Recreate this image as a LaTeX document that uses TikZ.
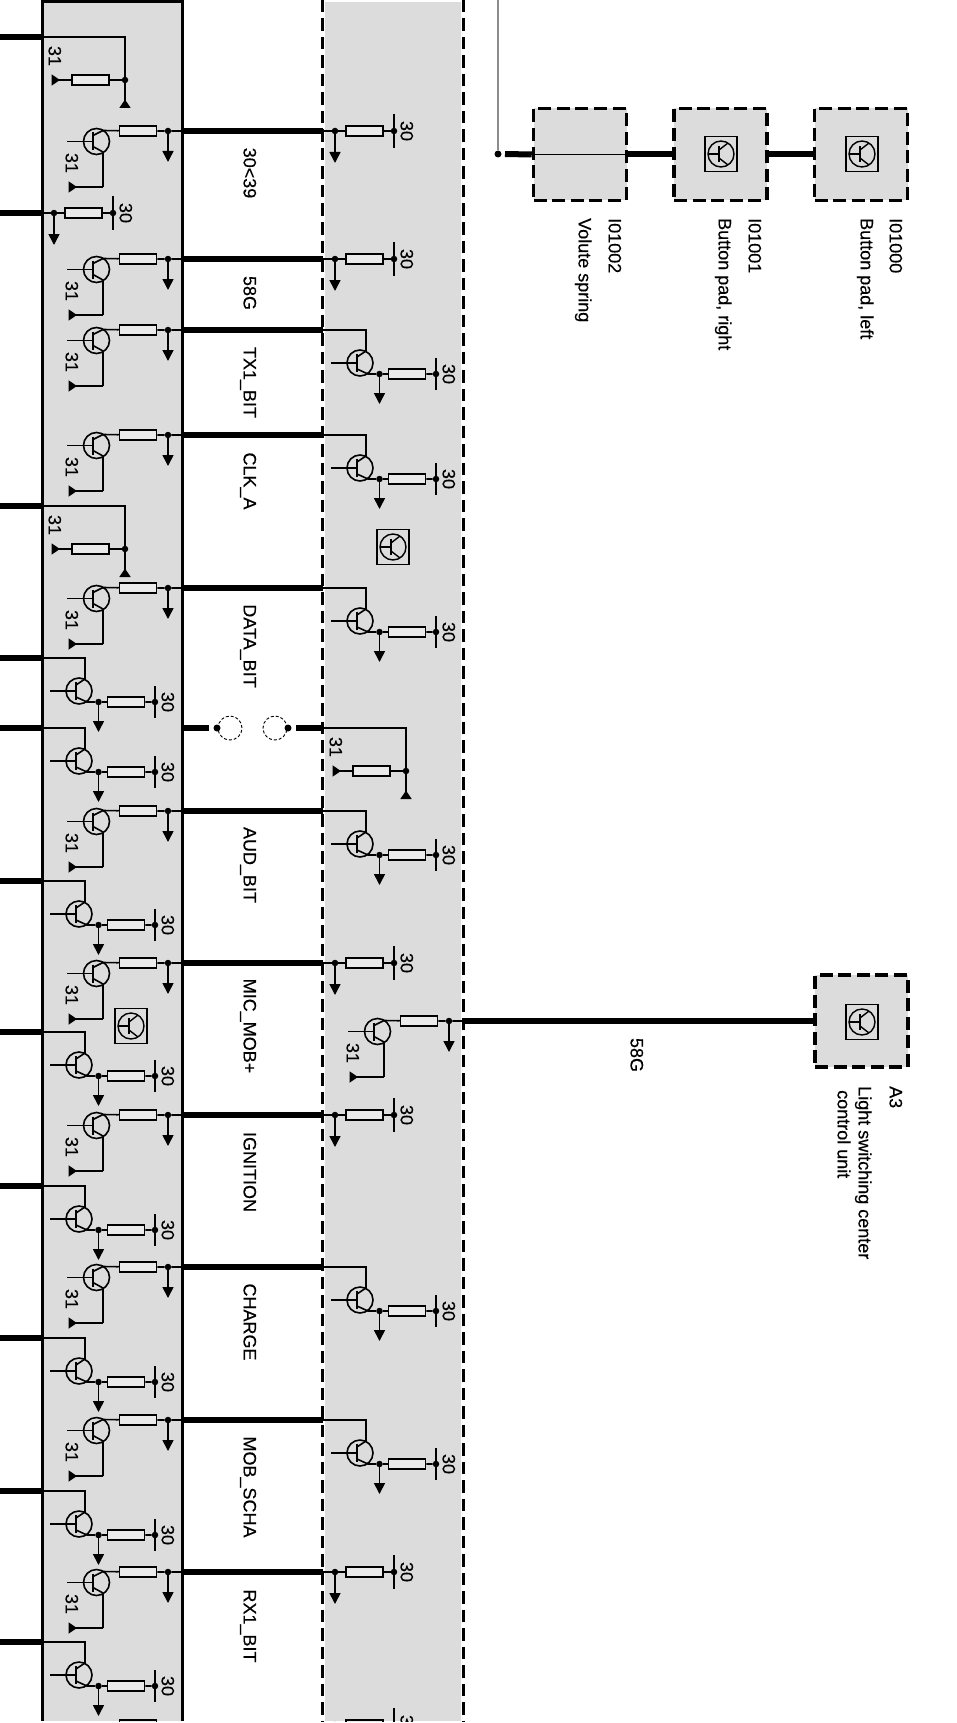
\documentclass[tikz,border=0pt]{standalone}
\usepackage{fontspec}
\setmainfont[FakeBold=0.3]{Liberation Sans}
\usetikzlibrary{arrows.meta}
\definecolor{panel}{HTML}{DCDCDC}
\definecolor{resfill}{HTML}{EAEAEA}
\tikzset{
  wire/.style={line width=1.6pt,line cap=butt},
  bus/.style={line width=6pt},
  frame/.style={line width=3pt},
  dashframe/.style={line width=3pt,dash pattern=on 12.5pt off 6pt},
  boxdash/.style={draw,line width=3.5pt,dash pattern=on 13pt off 5.6pt,fill=panel,rectangle,minimum width=93pt,minimum height=92pt,inner sep=0pt},
  res/.style={draw,rectangle,line width=1.5pt,fill=resfill,minimum width=37pt,minimum height=10pt,inner sep=0pt},
  jdot/.style={circle,fill=black,minimum size=6.5pt,inner sep=0pt},
  lab/.style={rotate=-90,inner sep=0pt,text height=12.8pt,text depth=0pt,font=\fontsize{18}{20}\selectfont},
  labs/.style={lab,anchor=west},
  down/.style={wire,-{Triangle[width=11pt,length=11pt]}},
  gnd/.style={wire,-{Triangle[reversed,width=11pt,length=8.5pt]}},
  unitA/.pic={
    \coordinate (-port) at (182,0);
    \node[jdot] (-dot) at (168,0) {};
    \coordinate (-arr) at (168,31);
    \node[res] (-r) at (138,0) {};
    \coordinate (-c) at (103,-0.5);
    \coordinate (-e) at (103,21);
    \coordinate (-ec) at (103,56);
    \coordinate (-g) at (68.5,56);
    \draw[wire] (-port) -- (-dot) -- (-r) -- (-c) -- (93,4.5);
    \draw[down] (-dot) -- (-arr);
    \draw[wire] (96.5,10.5) circle[radius=13];
    \draw[line width=1.8pt] (93,1.5) -- (93,19.5);
    \draw[wire] (67,10.5) -- (93,10.5);
    \draw[wire] (93,15.5) -- (-e);
    \draw[line width=1.8pt] (-e) -- (-ec);
    \draw[gnd,line width=1.8pt] (-ec) -- (-g);
    \node[lab] (-t) at (72,32) {31};
  },
  unitB/.pic={
    \coordinate (-port) at (42,0);
    \coordinate (-k) at (85,0);
    \coordinate (-c) at (85,21);
    \coordinate (-e) at (87,44);
    \node[jdot] (-dot) at (98.5,44) {};
    \coordinate (-arr) at (98.5,74);
    \node[res] (-r) at (126,44) {};
    \node[jdot] (-b) at (155,44) {};
    \draw[wire] (-port) -- (-k) -- (-c) -- (76,27);
    \draw[wire] (79,33) circle[radius=13];
    \draw[line width=1.8pt] (76,24) -- (76,42);
    \draw[wire] (50,33) -- (76,33);
    \draw[wire] (76,39) -- (-e) -- (-dot) -- (-r) -- (-b);
    \draw[down] (-dot) -- (-arr);
    \draw[wire] (155,28) -- (155,60);
    \node[lab] (-t) at (168,44) {30};
  },
  unitC/.pic={
    \coordinate (-port) at (42,0);
    \node[jdot] (-dot) at (54,0) {};
    \coordinate (-arr) at (54,32);
    \node[res] (-r) at (83.5,0) {};
    \node[jdot] (-b) at (113,0) {};
    \draw[wire] (-port) -- (-dot) -- (-r) -- (-b);
    \draw[down] (-dot) -- (-arr);
    \draw[wire] (113,-17) -- (113,17);
    \node[lab] (-t) at (126,0) {30};
  },
  unitD/.pic={
    \coordinate (-port) at (42,0);
    \coordinate (-k) at (125,0);
    \node[jdot] (-dot) at (125,43) {};
    \coordinate (-up) at (125,71);
    \node[res] (-r) at (90.5,43) {};
    \coordinate (-g) at (51.5,43);
    \draw[wire] (-port) -- (-k) -- (-dot) -- (-r);
    \draw[gnd] (-dot) -- (-up);
    \draw[gnd] (-r) -- (-g);
    \node[lab] (-t) at (55,19) {31};
  },
  icon/.pic={
    \node[draw,rectangle,line width=1.7pt,fill=panel,minimum width=32pt,minimum height=35pt,inner sep=0pt] (-box) at (0,0) {};
    \draw[line width=1.4pt] (0,0) circle[radius=13];
    \draw[line width=1.6pt] (-2,-8) -- (-2,8);
    \draw[line width=1.4pt] (-13,0) -- (-2,0);
    \draw[line width=1.4pt] (-2,-4) -- (7,-11);
    \draw[line width=1.4pt] (-2,4) -- (7,11);
  }
}
\begin{document}
\begin{tikzpicture}[x=1pt,y=-1pt]
\useasboundingbox (0,0) rectangle (956,1723);
\clip (0,0) rectangle (956,1721);
% panels
\fill[panel] (42,0) rectangle (182,1721);
\fill[panel] (325,2) rectangle (461,1721);
\draw[frame] (42,1721) -- (42,1.5) -- (182,1.5) -- (182,1721);
\draw[dashframe] (322,0) -- (322,1721);
\draw[dashframe] (463,0) -- (463,1721);

% left column, connector-side units
\foreach \y in {131,259,330,435,588,811,963,1115,1267,1420,1572}
  \pic (A\y) at (0,\y) {unitA};
\node[res] (lastL) at (138,1725) {};
\foreach \y in {658,728,881,1032,1186,1338,1491,1642} {
  \pic (B\y) at (0,\y) {unitB};
  \coordinate (E\y) at (0,\y);
  \draw[bus] (E\y) -- (B\y-port);
}
\pic (C213) at (0,213) {unitC};
\coordinate (E213) at (0,213);
\draw[bus] (E213) -- (C213-port);
\foreach \y in {37,506} {
  \pic (D\y) at (0,\y) {unitD};
  \coordinate (E\y) at (0,\y);
  \draw[bus] (E\y) -- (D\y-port);
}
% middle column
\foreach \y in {131,259,963,1115,1572} {
  \pic (M\y) at (281,\y) {unitC};
  \draw[bus] (A\y-port) -- (M\y-port);
}
\pic (M1725) at (281,1725) {unitC};
\foreach \y in {330,435,588,811,1267,1420} {
  \pic (M\y) at (281,\y) {unitB};
  \draw[bus] (A\y-port) -- (M\y-port);
}
\pic (M728) at (281,728) {unitD};
\pic (M1021) at (281,1021) {unitA};

% interrupted line
\coordinate (brkL) at (182,728);
\coordinate (brkLe) at (209,728);
\coordinate (brkRe) at (296,728);
\node[jdot,minimum size=7pt] (dotL) at (217,728) {};
\node[jdot,minimum size=7pt] (dotR) at (288,728) {};
\node[circle,draw,densely dashed,line width=0.9pt,minimum size=24pt,inner sep=0pt] (cirL) at (230,728) {};
\node[circle,draw,densely dashed,line width=0.9pt,minimum size=24pt,inner sep=0pt] (cirR) at (275,728) {};
\draw[bus] (brkL) -- (brkLe);
\draw[bus] (brkRe) -- (M728-port);

% icons in panels
\pic (icM) at (393,547) {icon};
\pic (icL) at (131,1026) {icon};

% bus labels
\node[lab] (n1) at (250,173) {30<39};
\node[lab] (n2) at (250,293) {58G};
\node[lab] (n3) at (250,382.5) {TX1\_BIT};
\node[lab] (n4) at (250,481) {CLK\_A};
\node[lab] (n5) at (250,646) {DATA\_BIT};
\node[lab] (n6) at (250,865) {AUD\_BIT};
\node[lab] (n7) at (250,1026) {MIC\_MOB+};
\node[lab] (n8) at (250,1172) {IGNITION};
\node[lab] (n9) at (250,1322) {CHARGE};
\node[lab] (n10) at (250,1487) {MOB\_SCHA};
\node[lab] (n11) at (250,1626) {RX1\_BIT};

% right-hand components
\node[boxdash] (vol) at (580,154.5) {};
\node[boxdash] (br) at (720.5,154.5) {};
\node[boxdash] (bl) at (861,154.5) {};
\node[boxdash] (a3) at (861.5,1021) {};
\pic (icR) at (721,154) {icon};
\pic (icB) at (862,154) {icon};
\pic (icA) at (862,1022) {icon};

\coordinate (top) at (498,0);
\node[jdot,minimum size=7pt] (sdot) at (498,154) {};
\coordinate (sbus) at (505,154);
\draw[line width=2pt,color=black!45] (top) -- (sdot);
\draw[bus] (sbus) -- (vol.west);
\draw[wire] (vol.west) -- (vol.east);
\draw[bus] (vol.east) -- (br.west);
\draw[bus] (br.east) -- (bl.west);
\draw[bus] (M1021-port) -- (a3.west |- M1021-port);

\node[labs] (t1) at (615,218) {I01002};
\node[labs] (t2) at (585,218) {Volute spring};
\node[labs] (t3) at (755,218) {I01001};
\node[labs] (t4) at (725,218) {Button pad, right};
\node[labs] (t5) at (896,218) {I01000};
\node[labs] (t6) at (867,218) {Button pad, left};
\node[labs] (t7) at (896,1086) {A3};
\node[labs] (t8) at (865,1086) {Light switching center};
\node[labs] (t9) at (844,1090) {control unit};
\node[lab] (t10) at (637,1055) {58G};
\end{tikzpicture}
\end{document}
